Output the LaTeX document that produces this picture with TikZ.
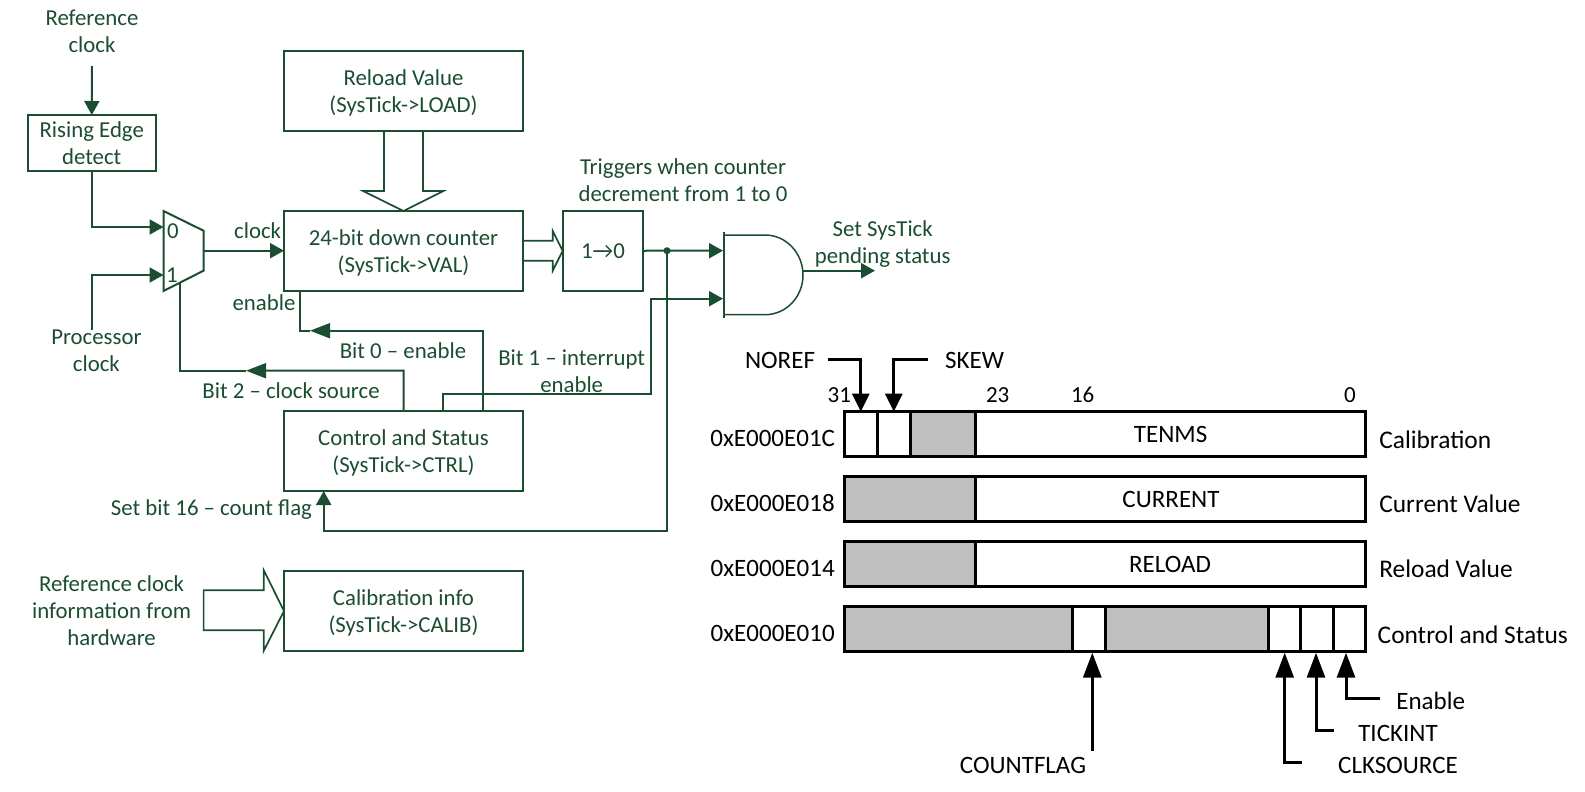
\documentclass[tikz,border=0pt]{standalone}
\usepackage{fontspec}
\setmainfont{Carlito}
\usetikzlibrary{arrows.meta}
\definecolor{gr}{HTML}{1B4D30}
\definecolor{shade}{HTML}{BFBFBF}
\tikzset{
  base/.style={align=center,inner sep=0pt,outer sep=0pt},
  gtxt/.style={base,text=gr,font=\fontsize{22.8}{27.3}\selectfont},
  btxt/.style={base,text=black,font=\fontsize{25}{30}\selectfont},
  rtxt/.style={base,text=black,font=\fontsize{25.4}{30}\selectfont,anchor=west},
  numtxt/.style={base,text=black,font=\fontsize{23}{27}\selectfont},
  gbox/.style={gtxt,draw=gr,line width=2pt,anchor=north west},
  boxtxt/.style={gtxt,yshift=-2pt},
  gline/.style={draw=gr,line width=2pt},
  garrow/.style={gline,-{Triangle[length=14pt,width=15pt,fill=gr]}},
  gmid/.style={gline,-{Triangle[length=20pt,width=15pt,fill=gr]}},
  hollow/.style={draw=gr,line width=1.7pt,line join=miter},
  cell/.style={draw=black,line width=3pt,anchor=north west,inner sep=0pt,outer sep=0pt,minimum height=45pt},
  bline/.style={draw=black,line width=3pt},
  barrow/.style={bline,-{Triangle[length=18pt,width=17pt,fill=black]}},
  blong/.style={bline,-{Triangle[length=25pt,width=18pt,fill=black]}},
}
\begin{document}
\begin{tikzpicture}[x=1pt,y=-1pt]
\useasboundingbox (0,0) rectangle (1585,792);
% ---- green boxes
\node[gbox,minimum width=128.5pt,minimum height=56pt] (rise) at (27.5,115) {Rising Edge\\detect};
\node[gbox,minimum width=239pt,minimum height=79pt] (reload) at (284,51.5) {};
\node[boxtxt] (treload) at (reload.center) {Reload Value\\(SysTick->LOAD)};
\node[gbox,minimum width=239pt,minimum height=79.5pt] (counter) at (284,211) {};
\node[boxtxt] (tcounter) at (counter.center) {24-bit down counter\\(SysTick->VAL)};
\node[gbox,minimum width=80.5pt,minimum height=79.5pt] (edge) at (562.7,211) {1→0};
\node[gbox,minimum width=239pt,minimum height=80pt] (ctrl) at (284,410.7) {};
\node[boxtxt] (tctrl) at (ctrl.center) {Control and Status\\(SysTick->CTRL)};
\node[gbox,minimum width=239pt,minimum height=80pt] (calib) at (284,571) {};
\node[boxtxt] (tcalib) at (calib.center) {Calibration info\\(SysTick->CALIB)};
% ---- green labels
\node[gtxt] (lref) at (92,31) {Reference\\clock};
\node[gtxt] (lproc) at (96.4,350.5) {Processor\\clock};
\node[gtxt] (lclock) at (257.6,231) {clock};
\node[gtxt] (lenable) at (264,303) {enable};
\node[gtxt] (lbit0) at (403,351) {Bit 0 – enable};
\node[gtxt] (lbit2) at (291,391) {Bit 2 – clock source};
\node[gtxt] (lbit1) at (571.7,371) {Bit 1 – interrupt\\enable};
\node[gtxt] (ltrig) at (683,180.5) {Triggers when counter\\decrement from 1 to 0};
\node[gtxt] (lset) at (882.7,244) {Set SysTick\\pending status};
\node[gtxt] (lflag) at (211.5,510) {Set bit 16 – count flag};
\node[gtxt] (linfo) at (111.6,610.5) {Reference clock\\information from\\hardware};
\node[gtxt] (lm0) at (173,231) {0};
\node[gtxt] (lm1) at (172,275) {1};
% ---- mux
\coordinate (muxa) at (163.5,211);
\coordinate (muxb) at (203.5,230.7);
\coordinate (muxc) at (203.5,270.7);
\coordinate (muxd) at (163.5,291);
\draw[gline,line join=miter] (muxa) -- (muxb) -- (muxc) -- (muxd) -- cycle;
\coordinate (mux0) at (163.5,227);
\coordinate (mux1) at (163.5,275);
\coordinate (muxout) at (203.5,250.7);
\coordinate (muxsel) at (180,283);
% ---- left connectors
\coordinate (reft) at (92,66);
\draw[garrow] (reft) -- (rise.north);
\draw[garrow] (rise.south) |- (mux0);
\coordinate (proct) at (92,330);
\draw[garrow] (proct) |- (mux1);
\draw[garrow] (muxout) -- (muxout -| counter.west);
% ---- enable feedback
\coordinate (c0) at (483,410.7);
\coordinate (c1) at (443,410.7);
\coordinate (ctop0) at (300,290.5);
\coordinate (tip0) at (310,330.7);
\coordinate (tip2) at (246,370.7);
\coordinate (top0) at (483,330.7);
\coordinate (top2) at (403.6,370.7);
\draw[gline] (tip0) -| (ctop0);
\draw[gmid] (c0) -- (top0) -- (tip0);
\draw[gline] (tip2) -| (muxsel);
\draw[gmid] (ctrl.north) -- (top2) -- (tip2);
% ---- hollow arrows
\coordinate (ha1) at (384,130.5);
\coordinate (ha2) at (423,130.5);
\draw[hollow] (ha1) -- (384,191) -- (363,191) -- (counter.north) -- (443.5,191) -- (423,191) -- (ha2);
\coordinate (hb1) at (523,240.7);
\coordinate (hb2) at (523,260.7);
\draw[hollow] (hb1) -- (552.7,240.7) -- (552.7,231) -- (edge.west) -- (552.7,270.7) -- (552.7,260.7) -- (hb2);
\coordinate (hc1) at (203.6,590.3);
\draw[hollow] (hc1) -- (263.8,590.3) -- (263.8,570.3) -- (calib.west) -- (263.8,650.7) -- (263.8,630.3) -- (203.6,630.3) -- cycle;
% ---- AND gate
\coordinate (andin1) at (723,250.7);
\coordinate (andin2) at (723,298.7);
\coordinate (andout) at (803,270.7);
\draw[draw=gr,line width=1.5pt] (724,232) -- (724,318);
\draw[draw=gr,line width=1.5pt] (723,235) -- (765,235) .. controls (786,235) and (803,253) .. (803,275) .. controls (803,297) and (786,314.7) .. (765,314.7) -- (723,314.7);
% ---- right connectors
\coordinate (dot) at (667,250.7);
\draw[garrow] (edge.east) -- (andin1);
\fill[gr] (dot) circle (3.5pt);
\coordinate (flagcorner) at (667,530.7);
\coordinate (flagup) at (323.7,491);
\draw[garrow] (dot) -- (flagcorner) -| (flagup);
\coordinate (i1) at (443,393.7);
\coordinate (i2) at (651,393.7);
\draw[garrow] (c1) -- (i1) -- (i2) |- (andin2);
\coordinate (setend) at (875,270.7);
\draw[garrow] (andout) -- (setend);
% ---- register rows
\node[cell,minimum width=33pt,fill=white] (a1) at (844.3,411.7) {};
\node[cell,minimum width=33pt,fill=white] (a2) at (877.3,411.7) {};
\node[cell,minimum width=65.7pt,fill=shade] (a3) at (910,411.7) {};
\node[cell,minimum width=390pt,fill=white] (a4) at (975.7,411.7) {};
\node[cell,minimum width=131.4pt,fill=shade] (b1) at (844.3,476.7) {};
\node[cell,minimum width=390pt,fill=white] (b2) at (975.7,476.7) {};
\node[cell,minimum width=131.4pt,fill=shade] (c1r) at (844.3,541.7) {};
\node[cell,minimum width=390pt,fill=white] (c2r) at (975.7,541.7) {};
\node[cell,minimum width=228pt,fill=shade] (d1) at (844.3,606.7) {};
\node[cell,minimum width=33.4pt,fill=white] (d2) at (1072.3,606.7) {};
\node[cell,minimum width=162.3pt,fill=shade] (d3) at (1105.7,606.7) {};
\node[cell,minimum width=32.3pt,fill=white] (d4) at (1268,606.7) {};
\node[cell,minimum width=33.4pt,fill=white] (d5) at (1300.3,606.7) {};
\node[cell,minimum width=32pt,fill=white] (d6) at (1333.7,606.7) {};
% ---- register labels
\node[btxt] (ltenms) at (1170.6,434) {TENMS};
\node[btxt] (lcur) at (1171,499) {CURRENT};
\node[btxt] (lrel) at (1170,564) {RELOAD};
\node[numtxt] (n31) at (839.3,395) {31};
\node[numtxt] (n23) at (997.7,395) {23};
\node[numtxt] (n16) at (1082.7,395) {16};
\node[numtxt] (n0) at (1350,395) {0};
\node[btxt] (ad1) at (772.7,438) {0xE000E01C};
\node[btxt] (ad2) at (772.7,503) {0xE000E018};
\node[btxt] (ad3) at (772.7,568) {0xE000E014};
\node[btxt] (ad4) at (772.7,633) {0xE000E010};
\node[rtxt] (rn1) at (1379.3,439.5) {Calibration};
\node[rtxt] (rn2) at (1379.3,504) {Current Value};
\node[rtxt] (rn3) at (1379.3,569) {Reload Value};
\node[rtxt] (rn4) at (1377.7,635) {Control and Status};
\node[btxt] (lnoref) at (780,360) {NOREF};
\node[btxt] (lskew) at (974.7,360) {SKEW};
\node[btxt] (lcf) at (1023,765) {COUNTFLAG};
\node[btxt] (lcs) at (1398,765) {CLKSOURCE};
\node[btxt] (lti) at (1398,733) {TICKINT};
\node[btxt] (len) at (1430.7,700.5) {Enable};
% ---- black connectors
\coordinate (nr) at (827.7,359);
\coordinate (sk) at (927.7,359);
\draw[barrow] (nr) -| (a1.north);
\draw[barrow] (sk) -| (a2.north);
\coordinate (cfb) at (1092.3,750.7);
\coordinate (cft) at (1092.3,652.7);
\draw[blong] (cfb) -- (cft);
\coordinate (csb) at (1301.7,762.7);
\coordinate (cst) at (1284.7,652.7);
\draw[blong] (csb) -| (cst);
\coordinate (tib) at (1334.3,730);
\coordinate (tit) at (1316,652.7);
\draw[blong] (tib) -| (tit);
\coordinate (enb) at (1380,698.3);
\coordinate (ent) at (1346,652.7);
\draw[blong] (enb) -| (ent);
\end{tikzpicture}
\end{document}
